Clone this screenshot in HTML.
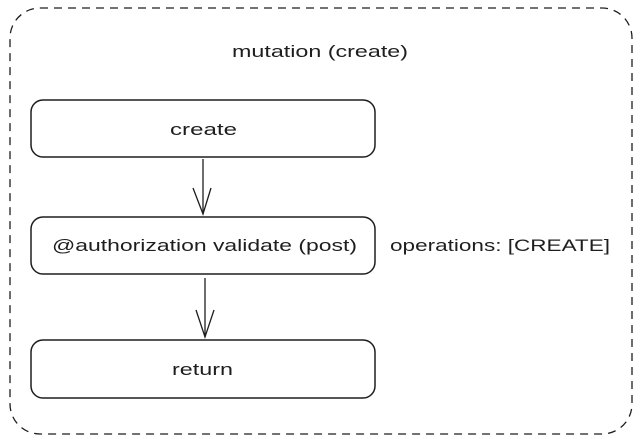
<!DOCTYPE html>
<html><head><style>
html,body{margin:0;padding:0;background:#fff;width:641px;height:443px;overflow:hidden}
svg text{font-family:"Liberation Sans",sans-serif;font-size:17px;fill:#1e1e1e}
</style></head><body>
<svg width="641" height="443" viewBox="0 0 641 443" xmlns="http://www.w3.org/2000/svg">
<rect x="10" y="8" width="622" height="426" rx="30" fill="none" stroke="#1e1e1e" stroke-width="1.3" stroke-dasharray="8 6"/>
<text x="232" y="57" textLength="176" lengthAdjust="spacingAndGlyphs">mutation (create)</text>
<rect x="31" y="100" width="344" height="57" rx="12" fill="none" stroke="#1e1e1e" stroke-width="1.5"/>
<text x="170" y="135" textLength="67" lengthAdjust="spacingAndGlyphs">create</text>
<line x1="203" y1="159" x2="203" y2="214" stroke="#1e1e1e" stroke-width="1.3"/>
<polyline points="193,188 203,214 211,188" fill="none" stroke="#1e1e1e" stroke-width="1.3"/>
<rect x="31" y="217" width="344" height="57" rx="12" fill="none" stroke="#1e1e1e" stroke-width="1.5"/>
<text x="52" y="251" textLength="305" lengthAdjust="spacingAndGlyphs">@authorization validate (post)</text>
<text x="390" y="251" textLength="220" lengthAdjust="spacingAndGlyphs">operations: [CREATE]</text>
<line x1="205" y1="278" x2="205" y2="337" stroke="#1e1e1e" stroke-width="1.3"/>
<polyline points="196,310 205,337 214,310" fill="none" stroke="#1e1e1e" stroke-width="1.3"/>
<rect x="31" y="340" width="344" height="58" rx="12" fill="none" stroke="#1e1e1e" stroke-width="1.5"/>
<text x="172" y="375" textLength="61" lengthAdjust="spacingAndGlyphs">return</text>
</svg>
</body></html>
